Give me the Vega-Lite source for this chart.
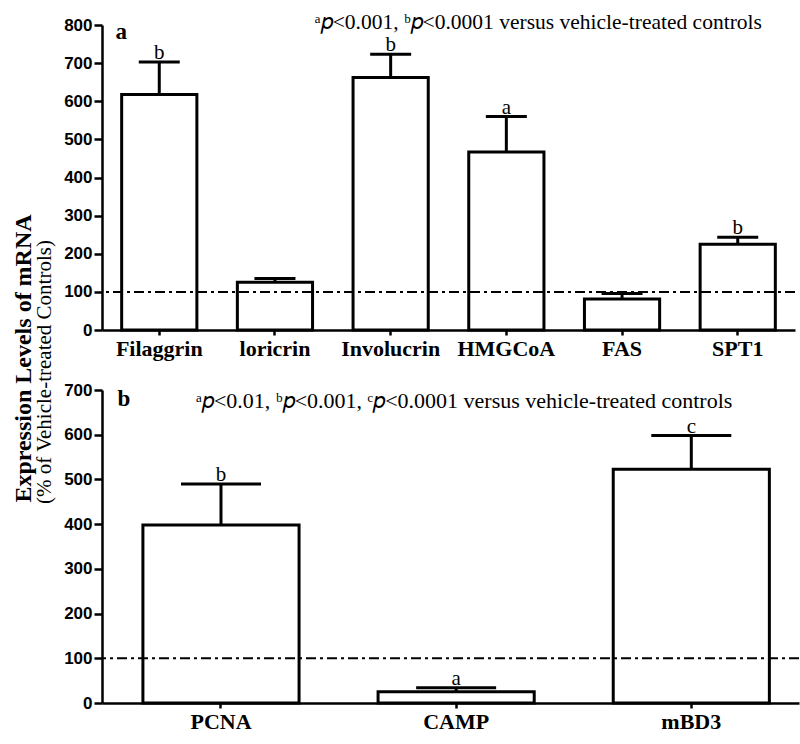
{
  "$schema": "https://vega.github.io/schema/vega-lite/v6.json",
  "background": "white",
  "padding": {"left": 11, "top": 11, "right": 0, "bottom": 0},
  "bounds": "flush",
  "spacing": 60,
  "config": {
    "view": {"stroke": null},
    "axis": {"domainColor": "black", "domainWidth": 2.5, "tickColor": "black", "tickWidth": 2.5, "labelColor": "black", "titleColor": "black", "grid": false, "labelOverlap": false},
    "axisX": {"labelFont": "Liberation Serif", "labelFontWeight": "bold", "labelFontSize": 22, "labelAngle": 0, "tickSize": 5, "labelPadding": 3, "title": null},
    "axisY": {"labelFont": "Liberation Sans", "labelFontWeight": "bold", "labelFontSize": 17, "tickSize": 8, "labelPadding": 2}
  },
  "vconcat": [
    {
      "width": 693,
      "height": 305,
      "data": {"values": [
        {"gene": "Filaggrin", "mean": 618, "upper": 703, "sig": "b"},
        {"gene": "loricrin", "mean": 125, "upper": 135, "sig": ""},
        {"gene": "Involucrin", "mean": 662, "upper": 723, "sig": "b"},
        {"gene": "HMGCoA", "mean": 467, "upper": 560, "sig": "a"},
        {"gene": "FAS", "mean": 81, "upper": 96, "sig": ""},
        {"gene": "SPT1", "mean": 225, "upper": 243, "sig": "b"}
      ]},
      "layer": [
        {
          "mark": {"type": "rule", "strokeWidth": 3, "color": "black"},
          "encoding": {
            "x": {"field": "gene", "type": "nominal", "sort": null, "scale": {"paddingInner": 0.35, "paddingOuter": 0.17}, "axis": {"title": null}},
            "y": {"field": "mean", "type": "quantitative", "scale": {"domain": [0, 800]}, "title": "Expression Levels of mRNA",
              "axis": {"values": [0, 100, 200, 300, 400, 500, 600, 700, 800], "tickCount": 9, "titleFont": "Liberation Serif", "titleFontWeight": "bold", "titleFontSize": 24, "titleX": -79, "titleY": 333, "titleAngle": 270, "titleAlign": "center", "titleBaseline": "middle"}},
            "y2": {"field": "upper"}
          }
        },
        {
          "mark": {"type": "bar", "fill": "white", "stroke": "black", "strokeWidth": 3},
          "encoding": {
            "x": {"field": "gene", "type": "nominal", "sort": null},
            "y": {"field": "mean", "type": "quantitative", "title": "Expression Levels of mRNA",
              "axis": {"values": [0, 100, 200, 300, 400, 500, 600, 700, 800], "tickCount": 9, "titleFont": "Liberation Serif", "titleFontWeight": "bold", "titleFontSize": 24, "titleX": -79, "titleY": 333, "titleAngle": 270, "titleAlign": "center", "titleBaseline": "middle"}}
          }
        },
        {
          "mark": {"type": "tick", "orient": "horizontal", "size": 41, "thickness": 3, "color": "black", "opacity": 1},
          "encoding": {
            "x": {"field": "gene", "type": "nominal", "sort": null},
            "y": {"field": "upper", "type": "quantitative", "title": "Expression Levels of mRNA",
              "axis": {"values": [0, 100, 200, 300, 400, 500, 600, 700, 800], "tickCount": 9, "titleFont": "Liberation Serif", "titleFontWeight": "bold", "titleFontSize": 24, "titleX": -79, "titleY": 333, "titleAngle": 270, "titleAlign": "center", "titleBaseline": "middle"}}
          }
        },
        {
          "data": {"values": [{}]},
          "mark": {"type": "rule", "strokeDash": [10, 4, 3, 4], "strokeWidth": 2, "color": "black"},
          "encoding": {"y": {"datum": 100, "type": "quantitative", "title": "Expression Levels of mRNA",
              "axis": {"values": [0, 100, 200, 300, 400, 500, 600, 700, 800], "tickCount": 9, "titleFont": "Liberation Serif", "titleFontWeight": "bold", "titleFontSize": 24, "titleX": -79, "titleY": 333, "titleAngle": 270, "titleAlign": "center", "titleBaseline": "middle"}}}
        },
        {
          "mark": {"type": "text", "font": "Liberation Serif", "fontSize": 21, "baseline": "alphabetic", "dy": -3, "color": "black"},
          "encoding": {
            "x": {"field": "gene", "type": "nominal", "sort": null},
            "y": {"field": "upper", "type": "quantitative", "title": "Expression Levels of mRNA",
              "axis": {"values": [0, 100, 200, 300, 400, 500, 600, 700, 800], "tickCount": 9, "titleFont": "Liberation Serif", "titleFontWeight": "bold", "titleFontSize": 24, "titleX": -79, "titleY": 333, "titleAngle": 270, "titleAlign": "center", "titleBaseline": "middle"}},
            "text": {"field": "sig"}
          }
        },
        {
          "data": {"values": [{}]},
          "mark": {"type": "text", "font": "Liberation Serif", "fontWeight": "bold", "fontSize": 23, "dx": -38, "baseline": "alphabetic", "color": "black"},
          "encoding": {"x": {"datum": "Filaggrin"}, "y": {"datum": 763, "type": "quantitative", "title": "Expression Levels of mRNA",
              "axis": {"values": [0, 100, 200, 300, 400, 500, 600, 700, 800], "tickCount": 9, "titleFont": "Liberation Serif", "titleFontWeight": "bold", "titleFontSize": 24, "titleX": -79, "titleY": 333, "titleAngle": 270, "titleAlign": "center", "titleBaseline": "middle"}}, "text": {"value": "a"}}
        },
        {
          "data": {"values": [{}]},
          "mark": {"type": "text", "font": "Liberation Serif", "fontSize": 21.5, "dx": 32, "baseline": "alphabetic", "color": "black"},
          "encoding": {"x": {"datum": "HMGCoA"}, "y": {"datum": 790, "type": "quantitative", "title": "Expression Levels of mRNA",
              "axis": {"values": [0, 100, 200, 300, 400, 500, 600, 700, 800], "tickCount": 9, "titleFont": "Liberation Serif", "titleFontWeight": "bold", "titleFontSize": 24, "titleX": -79, "titleY": 333, "titleAngle": 270, "titleAlign": "center", "titleBaseline": "middle"}}, "text": {"value": "ᵃ𝑝<0.001, ᵇ𝑝<0.0001 versus vehicle-treated controls"}}
        }
      ]
    },
    {
      "width": 697,
      "height": 313,
      "data": {"values": [
        {"gene": "PCNA", "mean": 398, "upper": 490, "sig": "b"},
        {"gene": "CAMP", "mean": 25, "upper": 34, "sig": "a"},
        {"gene": "mBD3", "mean": 523, "upper": 598, "sig": "c"}
      ]},
      "layer": [
        {
          "mark": {"type": "rule", "strokeWidth": 3, "color": "black"},
          "encoding": {
            "x": {"field": "gene", "type": "nominal", "sort": null, "scale": {"paddingInner": 0.336, "paddingOuter": 0.15, "align": 0.58}, "axis": {"title": null}},
            "y": {"field": "mean", "type": "quantitative", "scale": {"domain": [0, 700]}, "title": "(% of Vehicle-treated Controls)",
              "axis": {"values": [0, 100, 200, 300, 400, 500, 600, 700], "titleFont": "Liberation Serif", "titleFontWeight": "normal", "titleFontSize": 21, "titleX": -58, "titleY": -18.5, "titleAngle": 270, "titleAlign": "center", "titleBaseline": "middle"}},
            "y2": {"field": "upper"}
          }
        },
        {
          "mark": {"type": "bar", "fill": "white", "stroke": "black", "strokeWidth": 3},
          "encoding": {
            "x": {"field": "gene", "type": "nominal", "sort": null},
            "y": {"field": "mean", "type": "quantitative", "title": "(% of Vehicle-treated Controls)",
              "axis": {"values": [0, 100, 200, 300, 400, 500, 600, 700], "titleFont": "Liberation Serif", "titleFontWeight": "normal", "titleFontSize": 21, "titleX": -58, "titleY": -18.5, "titleAngle": 270, "titleAlign": "center", "titleBaseline": "middle"}}
          }
        },
        {
          "mark": {"type": "tick", "orient": "horizontal", "size": 80, "thickness": 3, "color": "black", "opacity": 1},
          "encoding": {
            "x": {"field": "gene", "type": "nominal", "sort": null},
            "y": {"field": "upper", "type": "quantitative", "title": "(% of Vehicle-treated Controls)",
              "axis": {"values": [0, 100, 200, 300, 400, 500, 600, 700], "titleFont": "Liberation Serif", "titleFontWeight": "normal", "titleFontSize": 21, "titleX": -58, "titleY": -18.5, "titleAngle": 270, "titleAlign": "center", "titleBaseline": "middle"}}
          }
        },
        {
          "data": {"values": [{}]},
          "mark": {"type": "rule", "strokeDash": [10, 4, 3, 4], "strokeWidth": 2, "color": "black"},
          "encoding": {"y": {"datum": 100, "type": "quantitative", "title": "(% of Vehicle-treated Controls)",
              "axis": {"values": [0, 100, 200, 300, 400, 500, 600, 700], "titleFont": "Liberation Serif", "titleFontWeight": "normal", "titleFontSize": 21, "titleX": -58, "titleY": -18.5, "titleAngle": 270, "titleAlign": "center", "titleBaseline": "middle"}}}
        },
        {
          "mark": {"type": "text", "font": "Liberation Serif", "fontSize": 21, "baseline": "alphabetic", "dy": -3, "color": "black"},
          "encoding": {
            "x": {"field": "gene", "type": "nominal", "sort": null},
            "y": {"field": "upper", "type": "quantitative", "title": "(% of Vehicle-treated Controls)",
              "axis": {"values": [0, 100, 200, 300, 400, 500, 600, 700], "titleFont": "Liberation Serif", "titleFontWeight": "normal", "titleFontSize": 21, "titleX": -58, "titleY": -18.5, "titleAngle": 270, "titleAlign": "center", "titleBaseline": "middle"}},
            "text": {"field": "sig"}
          }
        },
        {
          "data": {"values": [{}]},
          "mark": {"type": "text", "font": "Liberation Serif", "fontWeight": "bold", "fontSize": 23, "dx": -97, "baseline": "alphabetic", "color": "black"},
          "encoding": {"x": {"datum": "PCNA"}, "y": {"datum": 665, "type": "quantitative", "title": "(% of Vehicle-treated Controls)",
              "axis": {"values": [0, 100, 200, 300, 400, 500, 600, 700], "titleFont": "Liberation Serif", "titleFontWeight": "normal", "titleFontSize": 21, "titleX": -58, "titleY": -18.5, "titleAngle": 270, "titleAlign": "center", "titleBaseline": "middle"}}, "text": {"value": "b"}}
        },
        {
          "data": {"values": [{}]},
          "mark": {"type": "text", "font": "Liberation Serif", "fontSize": 22, "dx": 8, "baseline": "alphabetic", "color": "black"},
          "encoding": {"x": {"datum": "CAMP"}, "y": {"datum": 660, "type": "quantitative", "title": "(% of Vehicle-treated Controls)",
              "axis": {"values": [0, 100, 200, 300, 400, 500, 600, 700], "titleFont": "Liberation Serif", "titleFontWeight": "normal", "titleFontSize": 21, "titleX": -58, "titleY": -18.5, "titleAngle": 270, "titleAlign": "center", "titleBaseline": "middle"}}, "text": {"value": "ᵃ𝑝<0.01, ᵇ𝑝<0.001, ᶜ𝑝<0.0001 versus vehicle-treated controls"}}
        }
      ]
    }
  ]
}
